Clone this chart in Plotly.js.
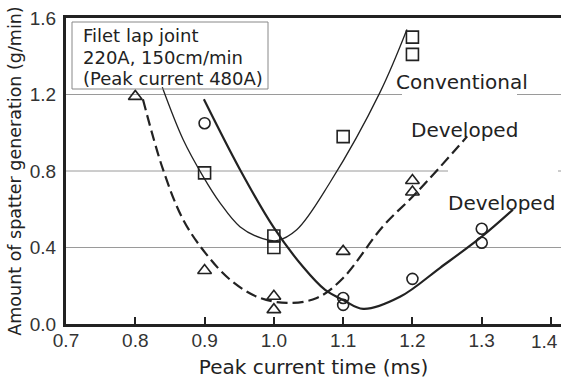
<!DOCTYPE html>
<html>
<head>
<meta charset="utf-8">
<script src="https://cdn.plot.ly/plotly-3.0.1.min.js"></script>
<style>html,body{margin:0;padding:0;background:#fff;}#chart{width:561px;height:380px;}</style>
</head>
<body>
<div id="chart"></div>
<script>
// Measured points
const convX = [0.9, 1.0, 1.0, 1.1, 1.2, 1.2];
const convY = [0.79, 0.46, 0.40, 0.98, 1.50, 1.41];
const devDashX = [0.8, 0.9, 1.0, 1.0, 1.1, 1.2, 1.2];
const devDashY = [1.19, 0.28, 0.145, 0.075, 0.38, 0.75, 0.69];
const devSolidX = [0.9, 1.1, 1.1, 1.2, 1.3, 1.3];
const devSolidY = [1.05, 0.136, 0.10, 0.236, 0.498, 0.425];

// Fitted curves
const convCurveX = [0.839, 0.869, 0.898, 0.922, 0.951, 0.984, 1.004, 1.033, 1.081, 1.153, 1.192];
const convCurveY = [1.238, 0.965, 0.771, 0.635, 0.509, 0.446, 0.436, 0.493, 0.74, 1.21, 1.54];
const dashCurveX = [0.811, 0.840, 0.869, 0.901, 0.937, 0.976, 1.019, 1.062, 1.100, 1.157, 1.206, 1.279];
const dashCurveY = [1.175, 0.808, 0.546, 0.372, 0.231, 0.142, 0.110, 0.136, 0.241, 0.509, 0.687, 0.981];
const solidCurveX = [0.899, 0.951, 0.999, 1.042, 1.074, 1.100, 1.129, 1.182, 1.240, 1.300, 1.345];
const solidCurveY = [1.175, 0.808, 0.509, 0.299, 0.178, 0.126, 0.079, 0.142, 0.294, 0.457, 0.598];

const xTicks = [0.7, 0.8, 0.9, 1.0, 1.1, 1.2, 1.3, 1.4];
const xTickText = ['0.7', '0.8', '0.9', '1.0', '1.1', '1.2', '1.3', '1.4'];
const yTicks = [0.0, 0.4, 0.8, 1.2, 1.6];
const yTickText = ['0.0', '0.4', '0.8', '1.2', '1.6'];

const ink = '#222';
const txt = 'DejaVu Sans, sans-serif';
const tickFont = {family: 'Liberation Sans, Arial, sans-serif', size: 19, color: '#333'};

const traces = [
  {x: convCurveX, y: convCurveY, mode: 'lines', line: {color: ink, width: 1.3, shape: 'spline', smoothing: 1}, hoverinfo: 'skip'},
  {x: dashCurveX, y: dashCurveY, mode: 'lines', line: {color: ink, width: 2.2, dash: '11px,5px', shape: 'spline', smoothing: 1}, hoverinfo: 'skip'},
  {x: solidCurveX, y: solidCurveY, mode: 'lines', line: {color: ink, width: 2.2, shape: 'spline', smoothing: 1}, hoverinfo: 'skip'},
  {x: convX, y: convY, mode: 'markers', marker: {symbol: 'square-open', size: 12, color: ink, line: {width: 1.6, color: ink}}},
  {x: devDashX, y: devDashY, mode: 'markers', marker: {symbol: 'triangle-up-open', size: 12, color: ink, line: {width: 1.6, color: ink}}},
  {x: devSolidX, y: devSolidY, mode: 'markers', marker: {symbol: 'circle-open', size: 11, color: ink, line: {width: 1.6, color: ink}}}
];

const gridCol = '#9a9a9a';
const shapes = [
  {type: 'line', xref: 'paper', yref: 'y', x0: 0, x1: (402-66)/495, y0: 1.2, y1: 1.2, line: {color: gridCol, width: 1}, layer: 'below'},
  {type: 'line', xref: 'paper', yref: 'y', x0: (517-66)/495, x1: 1, y0: 1.2, y1: 1.2, line: {color: gridCol, width: 1}, layer: 'below'},
  {type: 'line', xref: 'paper', yref: 'y', x0: 0, x1: (448-66)/495, y0: 0.8, y1: 0.8, line: {color: gridCol, width: 1}, layer: 'below'},
  {type: 'line', xref: 'paper', yref: 'y', x0: (558-66)/495, x1: 1, y0: 0.8, y1: 0.8, line: {color: gridCol, width: 1}, layer: 'below'},
  {type: 'line', xref: 'paper', yref: 'y', x0: 0, x1: 1, y0: 0.4, y1: 0.4, line: {color: gridCol, width: 1}, layer: 'below'},
  {type: 'rect', xref: 'paper', yref: 'paper', x0: (72-66)/495, x1: (268-66)/495, y0: 1-(89-18)/306, y1: 1-(22-18)/306, line: {color: '#888', width: 1}, fillcolor: 'rgba(255,255,255,0)'}
];

function py(p){ return 1 - (p - 18) / 306; }
const annotations = [
  {text: 'Filet lap joint', xref: 'paper', yref: 'paper', x: (81-66)/495, y: py(35), xanchor: 'left', yanchor: 'middle', showarrow: false, font: {family: txt, size: 18, color: ink}},
  {text: '220A, 150cm/min', xref: 'paper', yref: 'paper', x: (81-66)/495, y: py(57), xanchor: 'left', yanchor: 'middle', showarrow: false, font: {family: txt, size: 18, color: ink}},
  {text: '(Peak current 480A)', xref: 'paper', yref: 'paper', x: (81-66)/495, y: py(79), xanchor: 'left', yanchor: 'middle', showarrow: false, font: {family: txt, size: 18, color: ink}},
  {text: 'Conventional', xref: 'paper', yref: 'paper', x: (462-66)/495, y: py(82), xanchor: 'center', yanchor: 'middle', showarrow: false, font: {family: txt, size: 20, color: ink}},
  {text: 'Developed', xref: 'paper', yref: 'paper', x: (464.5-66)/495, y: py(130), xanchor: 'center', yanchor: 'middle', showarrow: false, font: {family: txt, size: 20, color: ink}},
  {text: 'Developed', xref: 'paper', yref: 'paper', x: (501.5-66)/495, y: py(203), xanchor: 'center', yanchor: 'middle', showarrow: false, font: {family: txt, size: 20, color: ink}},
  // last x tick label, kept inside the page edge
  {text: xTickText[xTickText.length - 1], xref: 'paper', yref: 'paper', x: 1, y: py(341), xanchor: 'right', yanchor: 'middle', xshift: -1, showarrow: false, font: tickFont}
];

const layout = {
  width: 561, height: 380,
  margin: {l: 66, r: 0, t: 18, b: 56},
  paper_bgcolor: '#fff', plot_bgcolor: '#fff',
  showlegend: false,
  xaxis: {
    range: [0.7, 1.4144], tickvals: xTicks, ticktext: xTickText.slice(0, -1).concat(['']),
    showgrid: false, zeroline: false, showline: true, linewidth: 3, linecolor: ink, mirror: true,
    ticks: 'inside', ticklen: 7, tickwidth: 2, tickcolor: ink,
    tickfont: tickFont,
    ticklabelstandoff: -3,
    title: {text: 'Peak current time (ms)', font: {family: txt, size: 20, color: ink}, standoff: 11}
  },
  yaxis: {
    range: [0, 1.6], tickvals: yTicks, ticktext: yTickText,
    showgrid: false, zeroline: false, showline: true, linewidth: 3, linecolor: ink,
    ticks: '', tickfont: tickFont,
    ticklabelstandoff: 3,
    title: {text: 'Amount of spatter generation (g/min)', font: {family: txt, size: 17.5, color: ink}, standoff: 4}
  },
  shapes: shapes,
  annotations: annotations
};

Plotly.newPlot('chart', traces, layout, {staticPlot: true, displayModeBar: false});
</script>
</body>
</html>
